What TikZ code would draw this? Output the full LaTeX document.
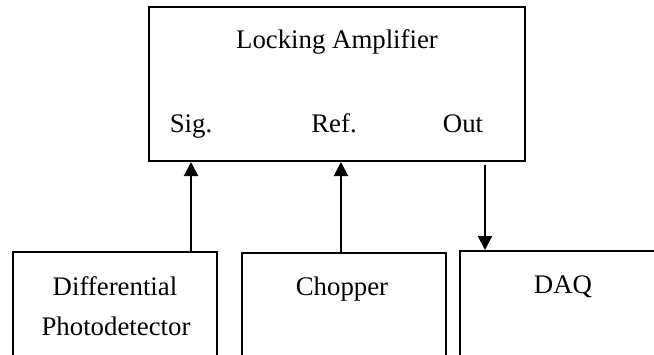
\documentclass[tikz,border=0pt]{standalone}
\usepackage{fontspec}
\setmainfont{Liberation Serif}
\usepackage{tikz}
\usetikzlibrary{arrows.meta}

\begin{document}
\begin{tikzpicture}[x=0.5pt, y=-0.5pt, font=\fontsize{13.4}{16}\selectfont,
  box/.style={draw, line width=1pt, inner sep=0pt},
  txt/.style={inner sep=0pt, anchor=base},
  flow/.style={-{Triangle[length=7pt, width=7pt]}, line width=1pt}]
\useasboundingbox (0,0) rectangle (654,354);
\clip (0,0) rectangle (654,354);
% amplifier and its ports
\node[box, minimum width=188pt, minimum height=77pt] (amp) at (337,84) {};
\node[txt] (title) at (337,48) {Locking Amplifier};
\node[txt] (sig) at (191,132) {Sig.};
\node[txt] (ref) at (334,132) {Ref.};
\node[txt] (out) at (463,132) {Out};
% instruments below, running off the page
\node[box, minimum width=102pt, minimum height=84pt] (diff) at (115,336) {};
\node[txt] (difftxt) at (115,295) {Differential};
\node[txt] (phototxt) at (116,335) {Photodetector};
\node[box, minimum width=102pt, minimum height=84pt] (chop) at (344,337) {};
\node[txt] (choptxt) at (342,295) {Chopper};
\node[box, minimum width=140pt, minimum height=84pt] (daq) at (600,335) {};
\node[txt] (daqtxt) at (563,293) {DAQ};
% signal paths
\draw[flow] (diff.north -| sig) -- (amp.south -| sig);
\draw[flow] ([xshift=3.5pt]chop.north -| ref) -- ([xshift=3.5pt]amp.south -| ref);
\draw[flow, shorten <=1.5pt] ([xshift=11pt]amp.south -| out) -- ([xshift=11pt]daq.north -| out);
\end{tikzpicture}
\end{document}
